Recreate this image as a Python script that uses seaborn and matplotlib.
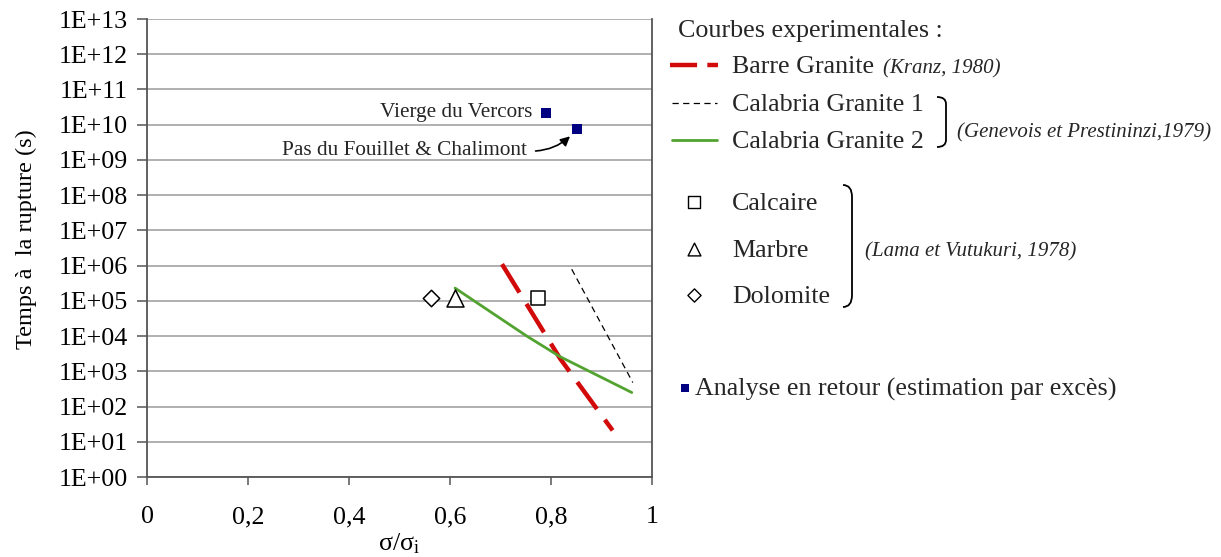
import numpy as np
import pandas as pd
import matplotlib
matplotlib.use("Agg")
import matplotlib.pyplot as plt
import seaborn as sns
from matplotlib.path import Path
from matplotlib.patches import PathPatch
from matplotlib.ticker import NullLocator, FixedLocator, FixedFormatter

# ---------------- data ----------------
barre_x = [0.703, 0.818, 0.922]
barre_t = [1.1e6, 2.3e3, 2.1e1]

cal1_x = [0.841, 0.962]
cal1_t = [7.9e5, 4.8e2]

cal2_x = [0.610, 0.752, 0.818, 0.960]
cal2_t = [2.3e5, 1.0e4, 2.6e3, 2.5e2]

rock_names = ["Calcaire", "Marbre", "Dolomite"]
rock_x = [0.774, 0.610, 0.562]
rock_t = [1.2e5, 1.2e5, 1.2e5]

site_names = ["Vierge du Vercors", "Pas du Fouillet & Chalimont"]
site_x = [0.791, 0.851]
site_t = [2.2e10, 7.4e9]

ytick_exp = list(range(0, 14))
ytick_vals = [10.0 ** k for k in ytick_exp]
ytick_labels = ["1E+%02d" % k for k in ytick_exp]
xtick_vals = [0, 0.2, 0.4, 0.6, 0.8, 1.0]
xtick_labels = ["0", "0,2", "0,4", "0,6", "0,8", "1"]

# ---------------- style ----------------
sns.set_theme(style="white")
plt.rcParams["font.family"] = ["Liberation Serif", "DejaVu Serif"]
plt.rcParams["mathtext.fontset"] = "custom"
plt.rcParams["mathtext.rm"] = "Liberation Serif"
plt.rcParams["mathtext.it"] = "Liberation Serif:italic"

W, H = 1221, 557
fig = plt.figure(figsize=(W / 100, H / 100), dpi=100)
ax = fig.add_axes([147 / W, (H - 477) / H, (652 - 147) / W, (477 - 19) / H])

RED = "#d20a0a"
GREEN = "#52a32f"
NAVY = "#000080"
SPINE = "#555555"
FS = 18.7   # main text size
FA = 15.3   # annotation size
FI = 15     # italic references

# lines
sns.lineplot(x=barre_x, y=barre_t, ax=ax, color=RED, lw=3.2,
             linestyle=(0, (7.5, 3)), sort=False)
sns.lineplot(x=cal1_x, y=cal1_t, ax=ax, color="black", lw=0.9,
             linestyle=(0, (5, 3.5)), sort=False)
sns.lineplot(x=cal2_x, y=cal2_t, ax=ax, color=GREEN, lw=2.0, sort=False)

# rock points
rock_markers = {"Calcaire": "s", "Marbre": "^", "Dolomite": "D"}
rock_sizes = {"Calcaire": 110, "Marbre": 150, "Dolomite": 70}
for name, x, t in zip(rock_names, rock_x, rock_t):
    sns.scatterplot(x=[x], y=[t], ax=ax, marker=rock_markers[name],
                    s=rock_sizes[name], color="white", edgecolor="black",
                    linewidth=1.1, zorder=5, legend=False)

# back-analysis sites
sns.scatterplot(x=site_x, y=site_t, ax=ax, marker="s", s=45, color=NAVY,
                edgecolor=NAVY, linewidth=0, zorder=6, legend=False)

ax.annotate(site_names[0], xy=(site_x[0], site_t[0]), xytext=(-10, 0),
            textcoords="offset points", ha="right", va="center",
            fontsize=FA)
ax.annotate(site_names[1], xy=(site_x[1], site_t[1]), xytext=(-36, -15),
            textcoords="offset points", ha="right", va="center",
            fontsize=FA,
            arrowprops=dict(arrowstyle="-|>", color="black", lw=1.2,
                            mutation_scale=14, shrinkA=4, shrinkB=7,
                            relpos=(1.0, 0.45),
                            connectionstyle="arc3,rad=0.25"))

# axes formatting
ax.set_yscale("log")
ax.set_xlim(0, 1)
ax.set_ylim(1, 1e13)
ax.yaxis.set_major_locator(FixedLocator(ytick_vals))
ax.yaxis.set_major_formatter(FixedFormatter(ytick_labels))
ax.yaxis.set_minor_locator(NullLocator())
ax.set_xticks(xtick_vals)
ax.set_xticklabels(xtick_labels)
ax.yaxis.grid(True, color="#9a9a9a", lw=1.1)
ax.xaxis.grid(False)
ax.set_axisbelow(True)
for side in ["left", "bottom", "right"]:
    ax.spines[side].set_color(SPINE)
    ax.spines[side].set_linewidth(1.3)
ax.spines["top"].set_visible(False)
ax.tick_params(axis="y", left=True, direction="out", length=7, width=1.1,
               color=SPINE, pad=7, labelsize=FS, labelcolor="black")
ax.tick_params(axis="x", bottom=True, direction="out", length=6, width=1.1,
               color=SPINE, pad=15, labelsize=FS, labelcolor="black")

ax.set_ylabel("Temps à  la rupture (s)", fontsize=17.5, color="black")
ax.yaxis.set_label_coords((37 - 147) / 505, (477 - 239) / 458)
ax.set_xlabel("σ/σ$_{\\mathrm{i}}$", fontsize=FS, color="black")
ax.xaxis.set_label_coords(0.5, (477 - 531) / 458)

# ---------------- custom legend (pixel coordinates) ----------------
lax = fig.add_axes([0, 0, 1, 1])
lax.set_xlim(0, W)
lax.set_ylim(H, 0)
lax.axis("off")

lax.text(678, 37, "Courbes experimentales :", fontsize=FS, va="baseline")

lax.plot([670, 718], [65, 65], color=RED, lw=3.2, linestyle=(0, (6.1, 2.3)),
         solid_capstyle="butt", dash_capstyle="butt")
lax.text(732, 73, "Barre Granite", fontsize=FS, va="baseline")
lax.text(883, 73, "(Kranz, 1980)", fontsize=FI, style="italic", va="baseline")

lax.plot([672, 717], [103, 103], color="black", lw=0.9, linestyle=(0, (5, 3.5)))
lax.text(732, 111, "Calabria Granite 1", fontsize=FS, va="baseline")
lax.plot([672, 717], [140, 140], color=GREEN, lw=2.0)
lax.text(732, 148, "Calabria Granite 2", fontsize=FS, va="baseline")

br1 = Path([(937, 97), (946, 97), (946, 104), (946, 140), (946, 147), (937, 147)],
           [Path.MOVETO, Path.CURVE3, Path.CURVE3, Path.LINETO, Path.CURVE3, Path.CURVE3])
lax.add_patch(PathPatch(br1, fill=False, lw=1.3, color="black"))
lax.text(957, 137, "(Genevois et Prestininzi,1979)", fontsize=FI,
         style="italic", va="baseline")

leg_markers = [("s", 70, 202), ("^", 85, 249), ("D", 45, 295)]
for name, (m, s, yy) in zip(rock_names, leg_markers):
    lax.scatter([694], [yy], marker=m, s=s, facecolor="white",
                edgecolor="black", linewidth=1.0)
    lax.text(732, yy + 8, name, fontsize=FS, va="baseline")

br2 = Path([(843, 185), (852, 185), (852, 197), (852, 295), (852, 307), (843, 307)],
           [Path.MOVETO, Path.CURVE3, Path.CURVE3, Path.LINETO, Path.CURVE3, Path.CURVE3])
lax.add_patch(PathPatch(br2, fill=False, lw=1.3, color="black"))
lax.text(865, 256, "(Lama et Vutukuri, 1978)", fontsize=FI, style="italic",
         va="baseline")

lax.scatter([685], [388], marker="s", s=30, color=NAVY, linewidth=0)
lax.text(695, 396, "Analyse en retour (estimation par excès)", fontsize=FS,
         va="baseline")

fig.savefig("out.png", dpi=100)
